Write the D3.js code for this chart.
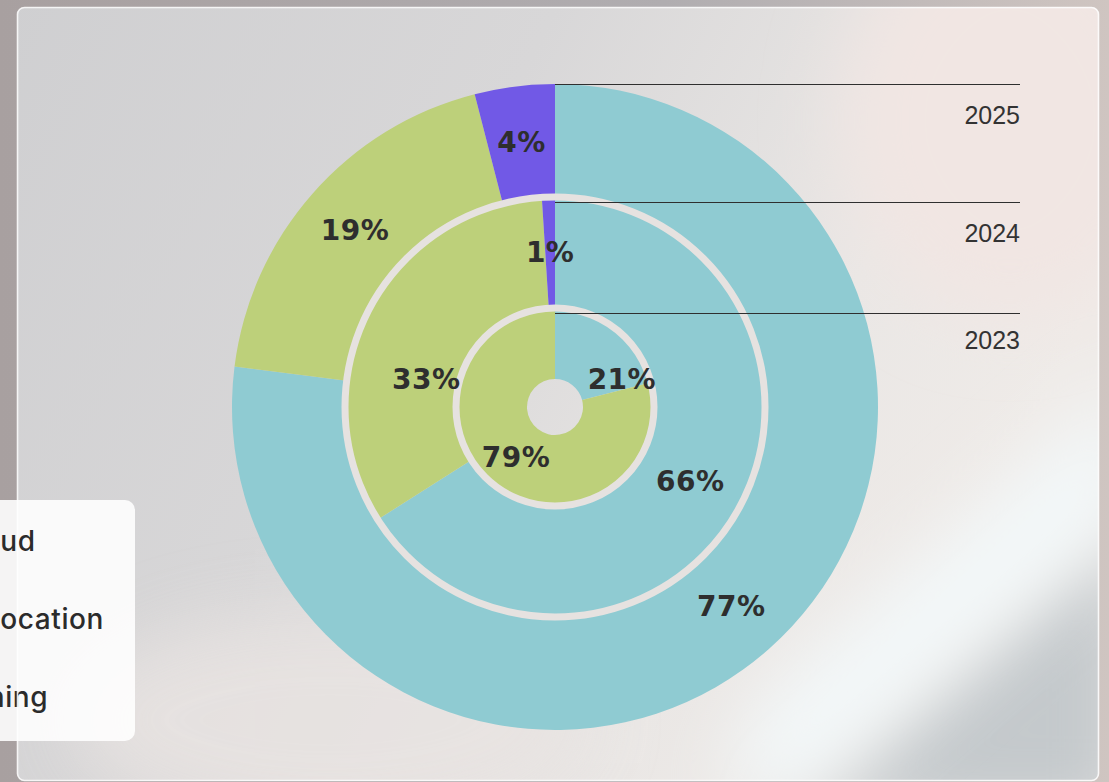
<!DOCTYPE html>
<html>
<head>
<meta charset="utf-8">
<script src="https://cdn.jsdelivr.net/npm/d3@7"></script>
<style>
  html, body { margin: 0; padding: 0; background: #a8a3a4; overflow: hidden; }
  svg { display: block; }
</style>
</head>
<body>
<svg id="chart" width="1109" height="782"></svg>
<script>
// Share of data-centre capacity by use, per year (percent)
const years = ["2023", "2024", "2025"];
const categories = ["Cloud", "Colocation", "Mining"];
const cloud      = [21, 66, 77];
const colocation = [79, 33, 19];
const mining     = [0, 1, 4];

const colors = { Cloud: "#8fcbd2", Colocation: "#bdd07a", Mining: "#7159e6" };

const W = 1109, H = 782;
const cx = 555, cy = 407;
// radii of each year's ring, innermost first
const ringEdges = [28, 99, 210, 323];

const svg = d3.select("#chart");
const defs = svg.append("defs");

// ---------- backdrop ----------
const outerGrad = defs.append("linearGradient").attr("id", "outerGrad")
  .attr("x1", 0).attr("y1", 0).attr("x2", 1).attr("y2", 0);
outerGrad.append("stop").attr("offset", 0).attr("stop-color", "#a8a0a0");
outerGrad.append("stop").attr("offset", 0.6).attr("stop-color", "#b0adb0");
outerGrad.append("stop").attr("offset", 1).attr("stop-color", "#cfc5c1");
svg.append("rect").attr("width", W).attr("height", H).attr("fill", "url(#outerGrad)");

const panel = { x: 17.5, y: 7.5, w: 1081, h: 773, r: 7 };
defs.append("clipPath").attr("id", "panelClip")
  .append("rect").attr("x", panel.x).attr("y", panel.y)
  .attr("width", panel.w).attr("height", panel.h).attr("rx", panel.r);

const baseGrad = defs.append("linearGradient").attr("id", "baseGrad")
  .attr("x1", 0).attr("y1", 0).attr("x2", 1).attr("y2", 0.35);
baseGrad.append("stop").attr("offset", 0).attr("stop-color", "#cfcfd1");
baseGrad.append("stop").attr("offset", 0.45).attr("stop-color", "#d8d7d8");
baseGrad.append("stop").attr("offset", 0.8).attr("stop-color", "#eae7e5");
baseGrad.append("stop").attr("offset", 1).attr("stop-color", "#efebe8");

const blur = defs.append("filter").attr("id", "soft")
  .attr("x", "-50%").attr("y", "-50%").attr("width", "200%").attr("height", "200%");
blur.append("feGaussianBlur").attr("stdDeviation", 35);

const bg = svg.append("g").attr("clip-path", "url(#panelClip)");
bg.append("rect").attr("x", 0).attr("y", 0).attr("width", W).attr("height", H)
  .attr("fill", "url(#baseGrad)");
// warm haze upper right
bg.append("ellipse").attr("cx", 1010).attr("cy", 120).attr("rx", 170).attr("ry", 200)
  .attr("fill", "#f1e6e3").attr("filter", "url(#soft)");
// pale haze lower left
bg.append("ellipse").attr("cx", 330).attr("cy", 720).attr("rx", 260).attr("ry", 110)
  .attr("fill", "#e9e4e2").attr("opacity", 0.8).attr("filter", "url(#soft)");
// cool grey below the light streak
bg.append("path")
  .attr("d", "M780,820 L1130,520 L1130,820 Z")
  .attr("fill", "#c4c9cc").attr("filter", "url(#soft)");
// bright diagonal streak lower right
bg.append("path")
  .attr("d", "M760,700 L1130,380 L1130,520 L800,800 L720,800 Z")
  .attr("fill", "#f3f8f9").attr("filter", "url(#soft)");

// ---------- legend (partly outside the view on the left) ----------
const legend = svg.append("g");
legend.append("rect").attr("x", -30).attr("y", 500).attr("width", 165).attr("height", 241)
  .attr("rx", 10).attr("fill", "#ffffff").attr("fill-opacity", 0.88);

const legendText = legend.selectAll("text.lg").data(categories).join("text")
  .attr("class", "lg")
  .attr("font-family", "Inter, 'Noto Sans', sans-serif")
  .attr("font-weight", 500)
  .attr("font-size", 28)
  .attr("letter-spacing", 0.6)
  .attr("fill", "#2b2b2b")
  .attr("y", (d, i) => 551 + i * 78)
  .text(d => d);
// align all labels on one left edge so "Colocation" ends at the box's text margin
const longest = legendText.filter(d => d === "Colocation").node().getComputedTextLength();
const textX = 104 - longest;
legendText.attr("x", textX);
legend.selectAll("circle.sw").data(categories).join("circle")
  .attr("class", "sw")
  .attr("cx", textX - 22).attr("cy", (d, i) => 542 + i * 78).attr("r", 9)
  .attr("fill", d => colors[d]);

// panel outline
svg.append("rect").attr("x", panel.x).attr("y", panel.y)
  .attr("width", panel.w).attr("height", panel.h).attr("rx", panel.r)
  .attr("fill", "none").attr("stroke", "#ffffff").attr("stroke-opacity", 0.85)
  .attr("stroke-width", 1.6);

// ---------- nested donut ----------
const pie = d3.pie().sort(null).value(d => d.value);
const chart = svg.append("g").attr("transform", `translate(${cx},${cy})`);

const rings = years.map((year, i) => {
  const rows = [
    { cat: "Cloud", value: cloud[i] },
    { cat: "Colocation", value: colocation[i] },
    { cat: "Mining", value: mining[i] }
  ];
  return { year, i, inner: ringEdges[i], outer: ringEdges[i + 1], arcs: pie(rows) };
});

rings.forEach(ring => {
  const arc = d3.arc().innerRadius(ring.inner).outerRadius(ring.outer);
  chart.append("g").selectAll("path")
    .data(ring.arcs.filter(a => a.data.value > 0))
    .join("path")
    .attr("d", arc)
    .attr("fill", d => colors[d.data.cat]);
});

// light separators between the year rings
chart.selectAll("circle.sep").data(ringEdges.slice(1, 3)).join("circle")
  .attr("class", "sep")
  .attr("r", d => d)
  .attr("fill", "none")
  .attr("stroke", "#e6e2e0")
  .attr("stroke-width", 7);

// year guides: a rule from the top of each ring out to the right, year beneath
const yearRuleEnd = 1020;
rings.forEach(ring => {
  const inset = ring.i < 2 ? 5 : 0;
  const y = cy - ring.outer + inset + 0.5;
  svg.append("line")
    .attr("x1", cx).attr("x2", yearRuleEnd)
    .attr("y1", y).attr("y2", y)
    .attr("stroke", "#2f2f2f").attr("stroke-width", 1);
  svg.append("text")
    .attr("x", yearRuleEnd).attr("y", y + (ring.i === 0 ? 35 : 39))
    .attr("text-anchor", "end")
    .attr("font-family", "'Liberation Sans', Arial, sans-serif")
    .attr("font-size", 25)
    .attr("fill", "#333")
    .text(ring.year);
});

// value labels at each slice's centroid (a couple shifted clear of the slice edges)
const labelShift = {
  "2023-Cloud": [28, 23],
  "2024-Colocation": [9, 43]
};
rings.forEach(ring => {
  const arc = d3.arc().innerRadius(ring.inner).outerRadius(ring.outer);
  ring.arcs.filter(a => a.data.value > 0).forEach(a => {
    const [x, y] = arc.centroid(a);
    const [sx, sy] = labelShift[`${ring.year}-${a.data.cat}`] || [0, 0];
    chart.append("text")
      .attr("x", x + sx).attr("y", y + sy)
      .attr("text-anchor", "middle")
      .attr("dominant-baseline", "central")
      .attr("font-family", "'DejaVu Sans', sans-serif")
      .attr("font-weight", "bold")
      .attr("font-size", 28)
      .attr("letter-spacing", 0.5)
      .attr("fill", "#2e2e2e")
      .text(a.data.value + "%");
  });
});
</script>
</body>
</html>
